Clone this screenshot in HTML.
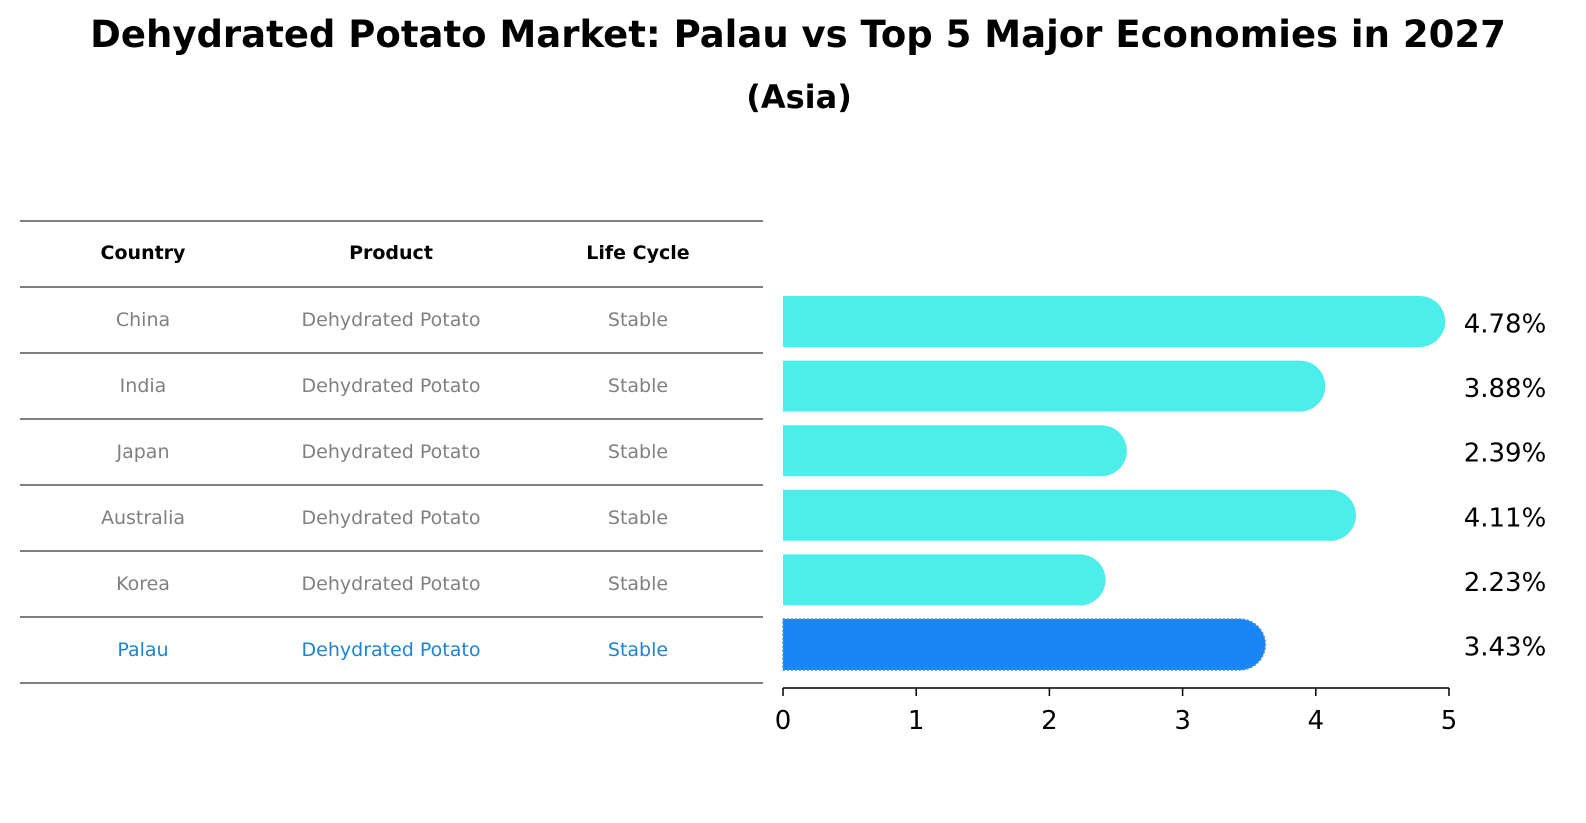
<!DOCTYPE html>
<html><head><meta charset="utf-8"><style>
body{margin:0;background:#fff;font-family:"DejaVu Sans","Liberation Sans",sans-serif;}
#wrap{position:relative;width:1586px;height:823px;overflow:hidden;}
.t{position:absolute;white-space:nowrap;transform:translateX(-50%);}
</style></head><body>
<div id="wrap">
<div class="t" style="left:798px;top:13px;font-size:37px;font-weight:bold;">Dehydrated Potato Market: Palau vs Top 5 Major Economies in 2027</div>
<div class="t" style="left:799px;top:78px;font-size:32px;font-weight:bold;">(Asia)</div>
<svg id="svg" width="1586" height="823" style="position:absolute;left:0;top:0"></svg>
</div>
<script>
const countries=["China","India","Japan","Australia","Korea","Palau"];
const values=[4.78,3.88,2.39,4.11,2.23,3.43];
const lifeCycle=["Stable","Stable","Stable","Stable","Stable","Stable"];
const ticks=[0,1,2,3,4,5];
const NS="http://www.w3.org/2000/svg";
const svg=document.getElementById('svg');
function mk(tag,attrs,txt){const e=document.createElementNS(NS,tag);for(const k in attrs)e.setAttribute(k,attrs[k]);if(txt!==undefined)e.textContent=txt;svg.appendChild(e);return e;}
const x0=783,x1=1449,xmax=5;
const xs=v=>x0+(x1-x0)*v/xmax;
const rowTop=287,rowH=66;
const ys=i=>rowTop+rowH*i+rowH/2;
const lines=[221,287];
for(let i=1;i<=countries.length;i++)lines.push(rowTop+rowH*i);
lines.forEach(y=>{const l=mk('line',{x1:20,x2:763,y1:y,y2:y,stroke:'#000','stroke-width':1});

});
const cols=[143,391,638],heads=["Country","Product","Life Cycle"];
heads.forEach((h,j)=>{const t=mk('text',{x:cols[j],y:259,'text-anchor':'middle','font-size':19,'font-weight':'bold','font-family':'DejaVu Sans,Liberation Sans,sans-serif'},h);

});
countries.forEach((c,i)=>{
 const col=i===countries.length-1?'#1a85d6':'#808080';
 [c,"Dehydrated Potato",lifeCycle[i]].forEach((s,j)=>{
  const t=mk('text',{x:cols[j],y:ys(i)+6,'text-anchor':'middle','font-size':19,fill:col,'font-family':'DejaVu Sans,Liberation Sans,sans-serif'},s);
  
  
 });
 const h=51,r=25.5,y=296+64.6*i;
 const xe=xs(values[i]);
 const isP=i===countries.length-1;
 const fill=isP?'#1a85f5':'#4ceeea';
 const p=mk('path',{d:`M${x0},${y}H${xe}A${r},${r} 0 0 1 ${xe},${y+h}H${x0}Z`,fill:fill});
 if(isP){p.setAttribute('stroke','#4a90d9');p.setAttribute('stroke-dasharray','2,2');p.setAttribute('stroke-width',1.5);}
 
 
 const vt=mk('text',{x:1505,y:y+h/2+11,'text-anchor':'middle','font-size':26,fill:'#000','font-family':'DejaVu Sans,Liberation Sans,sans-serif'},values[i].toFixed(2)+'%');
 
 
});
const ax=mk('line',{x1:x0,x2:x1,y1:688,y2:688,stroke:'#000','stroke-width':1.5});


ticks.forEach(v=>{
 const tk=mk('line',{x1:xs(v),x2:xs(v),y1:688,y2:696,stroke:'#000','stroke-width':1.5});
 
 
 const tl=mk('text',{x:xs(v),y:729,'text-anchor':'middle','font-size':26,'font-family':'DejaVu Sans,Liberation Sans,sans-serif'},String(v));
 
 
});
</script>
</body></html>
